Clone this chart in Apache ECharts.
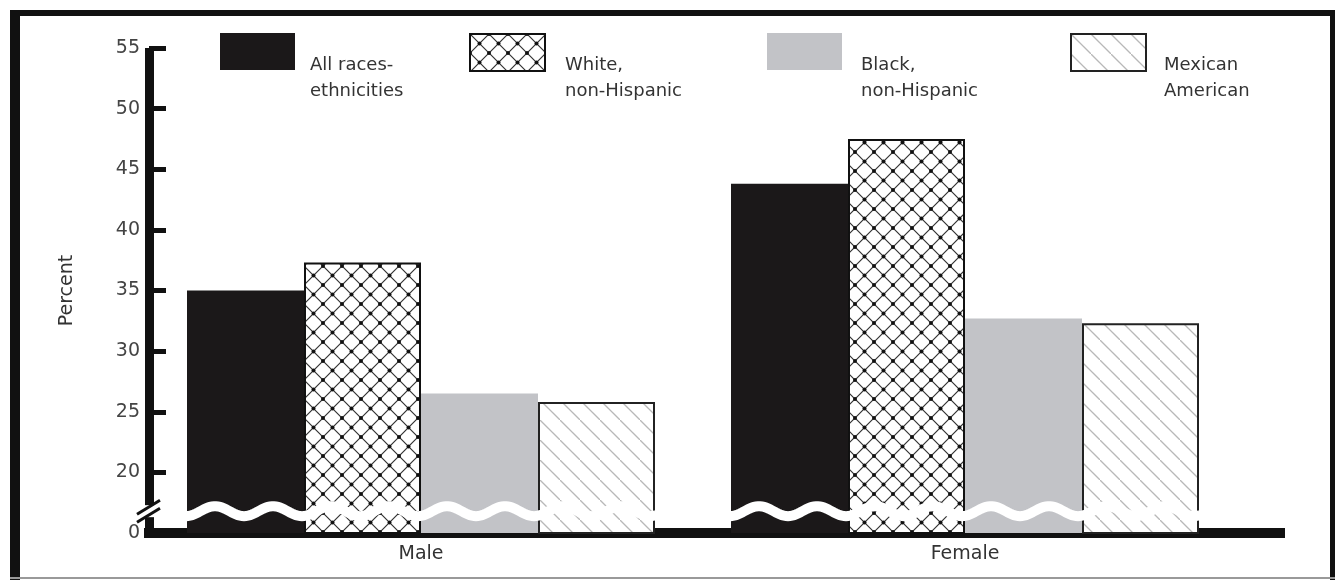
<!DOCTYPE html>
<html><head><meta charset="utf-8">
<script src="https://cdn.jsdelivr.net/npm/echarts@6/dist/echarts.min.js"></script>
<style>html,body{margin:0;padding:0;background:#fff}#c{width:1337px;height:580px}</style>
</head><body><div id="c"></div>
<script>
// ---- data ----
const categories = ['Male', 'Female'];
const seriesNames = ['All races-\nethnicities', 'White,\nnon-Hispanic', 'Black,\nnon-Hispanic', 'Mexican\nAmerican'];
const allRaces = [35.0, 43.8];
const whiteNonHispanic = [37.3, 47.5];
const blackNonHispanic = [26.5, 32.7];
const mexicanAmerican = [25.8, 32.3];
const yTickValues = [15, 20, 25, 30, 35, 40, 45, 50, 55];
const yTickLabels = ['0', '20', '25', '30', '35', '40', '45', '50', '55'];
const breakValue = 16.8;

// ---- patterns ----
function crossHatch() {
  const s = 19, c = document.createElement('canvas'); c.width = c.height = s;
  const g = c.getContext('2d');
  g.fillStyle = '#fff'; g.fillRect(0, 0, s, s);
  g.strokeStyle = '#333'; g.lineWidth = 1.2;
  g.beginPath(); g.moveTo(0, 0); g.lineTo(s, s); g.moveTo(s, 0); g.lineTo(0, s); g.stroke();
  g.fillStyle = '#111';
  g.beginPath(); g.arc(s / 2, s / 2, 2, 0, Math.PI * 2); g.fill();
  [[0, 0], [s, 0], [0, s], [s, s]].forEach(p => { g.beginPath(); g.arc(p[0], p[1], 2, 0, Math.PI * 2); g.fill(); });
  return c;
}
function diagHatch() {
  const s = 20, c = document.createElement('canvas'); c.width = c.height = s;
  const g = c.getContext('2d');
  g.fillStyle = '#fff'; g.fillRect(0, 0, s, s);
  g.strokeStyle = '#b8b8b8'; g.lineWidth = 1.3;
  g.beginPath(); g.moveTo(-2, -2); g.lineTo(s + 2, s + 2); g.stroke();
  return c;
}

const FONT = 'DejaVu Sans, Liberation Sans, Arial, sans-serif';
const chart = echarts.init(document.getElementById('c'));
const barW = 117;
const iconLefts = [220, 469, 767, 1070];
const textLefts = [310, 565, 861, 1164];
function iconLegend(i) {
  return { data: [seriesNames[i]], left: iconLefts[i], top: 33, itemWidth: 75, itemHeight: 37, icon: 'rect',
    formatter: () => '', selectedMode: false, padding: 0 };
}
function textLegend(i) {
  return { data: [{ name: seriesNames[i], icon: 'none' }], left: textLefts[i] - 5, top: 52, itemWidth: 0, itemHeight: 10,
    selectedMode: false, padding: 0,
    textStyle: { fontFamily: FONT, fontSize: 18, color: '#333', lineHeight: 26 } };
}
const styles = [
  { color: '#1b1819' },
  { color: { image: crossHatch(), repeat: 'repeat' }, borderColor: '#111', borderWidth: 2 },
  { color: '#c2c3c7' },
  { color: { image: diagHatch(), repeat: 'repeat' }, borderColor: '#222', borderWidth: 2 }
];
const values = [allRaces, whiteNonHispanic, blackNonHispanic, mexicanAmerican];

chart.setOption({
  animation: false,
  backgroundColor: '#fff',
  legend: [0, 1, 2, 3].map(iconLegend).concat([0, 1, 2, 3].map(textLegend)),
  grid: [
    { left: 149, right: 100, top: 48, bottom: 47 },
    { left: 144, right: 52, top: 48, bottom: 47 }
  ],
  xAxis: [
    { type: 'category', gridIndex: 0, data: categories,
      axisLine: { show: false }, axisTick: { show: false },
      axisLabel: { margin: 12, fontFamily: FONT, fontSize: 19, color: '#333' } },
    { type: 'value', gridIndex: 1, min: 0, max: 1, axisLabel: { show: false }, axisTick: { show: false }, splitLine: { show: false },
      axisLine: { show: true, lineStyle: { color: '#111', width: 10, cap: 'butt' } } }
  ],
  yAxis: [
    { type: 'value', gridIndex: 0, min: 15, max: 55, interval: 5,
      name: 'Percent', nameLocation: 'middle', nameRotate: 90, nameGap: 72,
      nameTextStyle: { fontFamily: FONT, fontSize: 19, color: '#333' },
      axisLine: { show: true, lineStyle: { color: '#111', width: 9, cap: 'butt' } },
      axisTick: { show: true, inside: true, length: 17, lineStyle: { color: '#111', width: 5 } },
      axisLabel: { margin: 9, fontFamily: FONT, fontSize: 19, color: '#444',
        formatter: v => yTickLabels[yTickValues.indexOf(v)] },
      splitLine: { show: false } },
    { type: 'value', gridIndex: 1, show: false }
  ],
  series: values.map((d, i) => ({
    name: seriesNames[i], type: 'bar', xAxisIndex: 0, yAxisIndex: 0, data: d,
    barWidth: barW, barGap: '0%', itemStyle: styles[i]
  }))
});

// ---- axis break decoration (positions derived from the axes) ----
const yB = chart.convertToPixel({ yAxisIndex: 0 }, breakValue);
const graphics = [];
categories.forEach((c, i) => {
  const cx = chart.convertToPixel({ xAxisIndex: 0 }, i);
  const x0 = cx - 2 * barW - 1, x1 = cx + 2 * barW + 2;
  const pts = [];
  for (let x = x0; x <= x1; x += 2) pts.push([x, yB + 5 * Math.sin((x - x0) / 58 * 2 * Math.PI + Math.PI / 2)]);
  graphics.push({ type: 'polyline', shape: { points: pts }, style: { stroke: '#fff', lineWidth: 10, fill: null }, z: 100 });
});
graphics.push({ type: 'rect', shape: { x: 142, y: yB - 6, width: 14, height: 12 }, style: { fill: '#fff' }, z: 100 });
graphics.push({ type: 'line', shape: { x1: 137, y1: yB + 3, x2: 160, y2: yB - 11 }, style: { stroke: '#111', lineWidth: 3 }, z: 101 });
graphics.push({ type: 'line', shape: { x1: 137, y1: yB + 11, x2: 160, y2: yB - 3 }, style: { stroke: '#111', lineWidth: 3 }, z: 101 });
// outer frame
graphics.push({ type: 'rect', shape: { x: 10, y: 10, width: 10, height: 570 }, style: { fill: '#111' }, z: 90 });
graphics.push({ type: 'rect', shape: { x: 10, y: 10, width: 1325, height: 6 }, style: { fill: '#111' }, z: 90 });
graphics.push({ type: 'rect', shape: { x: 1330, y: 10, width: 5, height: 570 }, style: { fill: '#111' }, z: 90 });
graphics.push({ type: 'rect', shape: { x: 10, y: 577, width: 1325, height: 2 }, style: { fill: '#999' }, z: 90 });
chart.setOption({ graphic: graphics });
</script></body></html>
